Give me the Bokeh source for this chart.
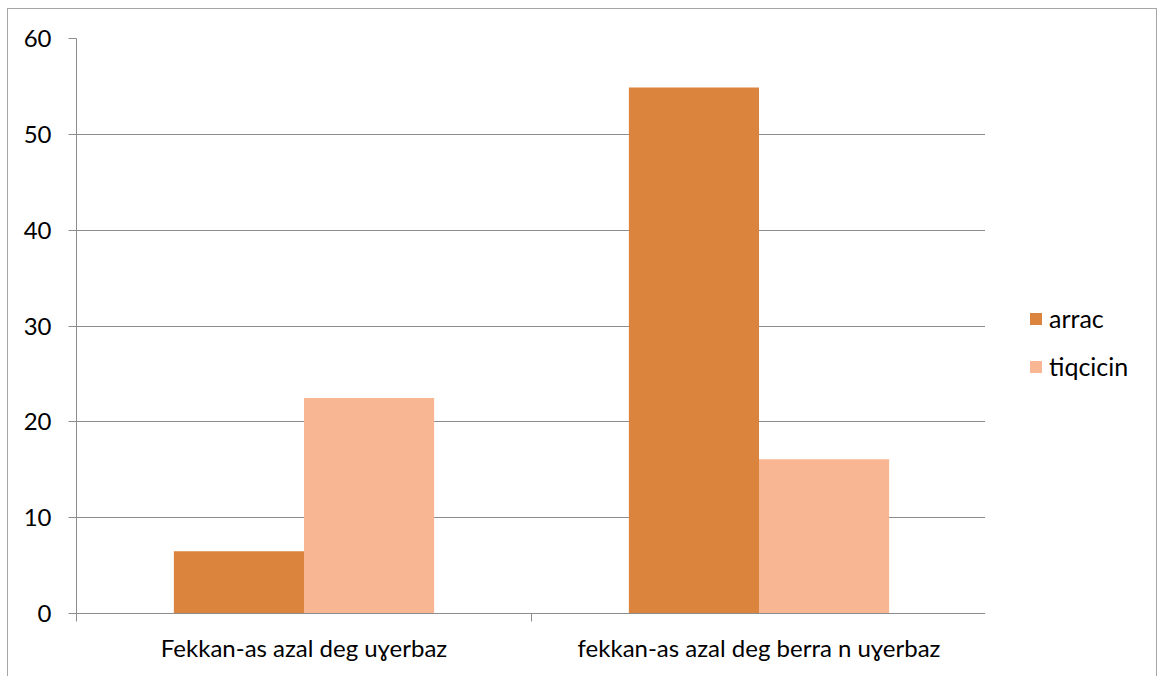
from bokeh.plotting import figure
from bokeh.models import ColumnDataSource, Range1d, FixedTicker, Legend, Spacer
from bokeh.layouts import column, row
from bokeh.transform import dodge
from bokeh.embed import file_html
from bokeh.resources import INLINE

categories = ["Fekkan-as azal deg uɣerbaz", "fekkan-as azal deg berra n uɣerbaz"]
series_names = ["arrac", "tiqcicin"]
arrac = [6.5, 54.9]
tiqcicin = [22.5, 16.1]
colors = ["#DB843D", "#F8B692"]
y_ticks = [0, 10, 20, 30, 40, 50, 60]

positions = [i + 0.5 for i in range(len(categories))]
source = ColumnDataSource(dict(x=positions, arrac=arrac, tiqcicin=tiqcicin))

FONT = "Lato"
FS = "24px"
GRAY = "#8c8c8c"
BORDER = "1px solid #a6a6a6"

p = figure(width=978, height=668, x_range=Range1d(0, len(categories)), y_range=Range1d(0, 60),
           output_backend="svg", toolbar_location=None,
           min_border_left=68, min_border_top=29, min_border_right=0, min_border_bottom=64)
p.styles = {"border-left": BORDER, "border-top": BORDER}
p.outline_line_color = None

bw = 0.286
p.vbar(x=dodge("x", -bw / 2, range=p.x_range), top="arrac", width=bw, source=source,
       fill_color=colors[0], line_color=None)
p.vbar(x=dodge("x", bw / 2, range=p.x_range), top="tiqcicin", width=bw, source=source,
       fill_color=colors[1], line_color=None)

# y axis
p.yaxis.ticker = FixedTicker(ticks=y_ticks)
p.yaxis.axis_line_color = GRAY
p.yaxis.major_tick_line_color = GRAY
p.yaxis.major_tick_out = 8
p.yaxis.major_tick_in = 0
p.yaxis.minor_tick_line_color = None
p.yaxis.major_label_standoff = 17
p.yaxis.major_label_text_font = FONT
p.yaxis.major_label_text_font_size = FS
p.yaxis.major_label_text_color = "#000000"

# x axis: labels at category centers, boundary ticks as minor ticks
p.xaxis.ticker = FixedTicker(ticks=positions, minor_ticks=list(range(len(categories) + 1)))
p.xaxis.major_label_overrides = {pos: c for pos, c in zip(positions, categories)}
p.xaxis.axis_line_color = GRAY
p.xaxis.major_tick_line_color = None
p.xaxis.major_tick_out = 8
p.xaxis.minor_tick_line_color = GRAY
p.xaxis.minor_tick_out = 8
p.xaxis.minor_tick_in = 0
p.xaxis.major_label_standoff = 11
p.xaxis.major_label_text_font = FONT
p.xaxis.major_label_text_font_size = FS
p.xaxis.major_label_text_color = "#000000"

p.xgrid.visible = False
p.ygrid.ticker = FixedTicker(ticks=y_ticks)
p.ygrid.grid_line_color = GRAY

# legend panel to the right of the plot area (its proxy bars have zero width, out of view)
lf = figure(width=172, height=668, x_range=Range1d(100, 101), y_range=Range1d(1000, 1001),
            output_backend="svg", toolbar_location=None, x_axis_type=None, y_axis_type=None,
            min_border=0)
lf.styles = {"border-top": BORDER, "border-right": BORDER}
lf.outline_line_color = None
lf.grid.visible = False
proxies = []
for name, c in zip(series_names, colors):
    r = lf.vbar(x="x", top=name, width=0, source=source, fill_color=c, line_color=None)
    proxies.append((name, [r]))

lg = Legend(items=proxies, location=(43, 232))
lg.border_line_color = None
lg.background_fill_alpha = 0
lg.padding = 0
lg.margin = 0
lg.spacing = 18
lg.glyph_width = 15
lg.glyph_height = 15
lg.label_height = 20
lg.label_standoff = 6
lg.label_text_font = FONT
lg.label_text_font_size = "25px"
lg.label_text_color = "#000000"
lf.add_layout(lg)

layout = column(Spacer(height=8), row(Spacer(width=7), p, lf))
open("out.html", "w").write(file_html(layout, INLINE))
